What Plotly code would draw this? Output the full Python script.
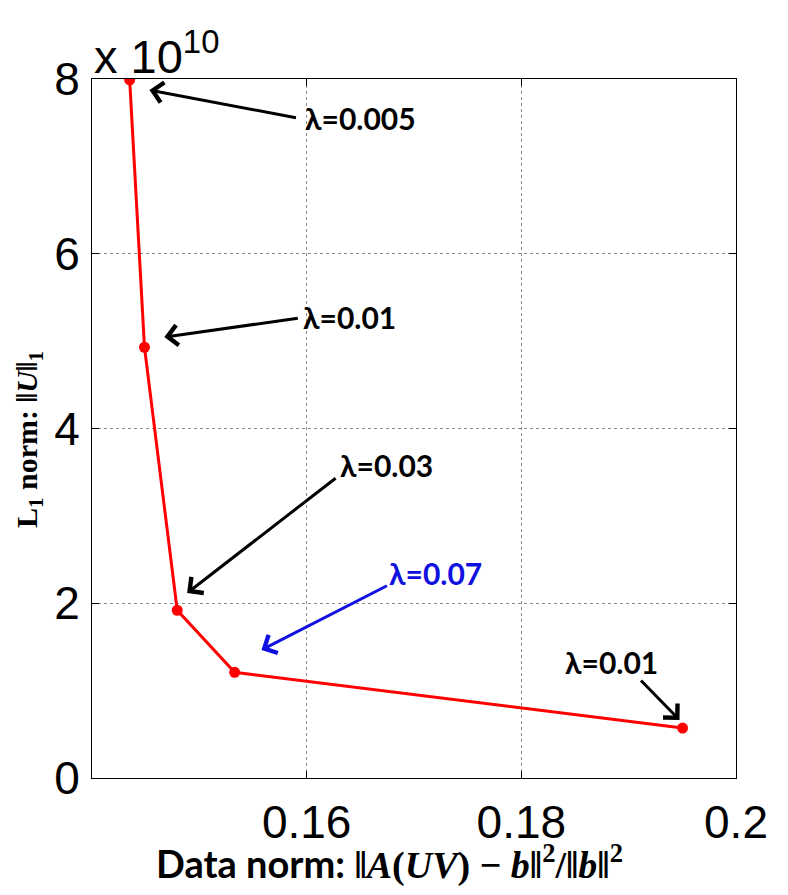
import plotly.graph_objects as go

# Data
data_norm = [0.14351, 0.14489, 0.14794, 0.15329, 0.19502]
l1_norm = [7.99e10, 4.93e10, 1.92e10, 1.21e10, 0.572e10]

x_ticks = [0.16, 0.18, 0.2]
x_ticktext = ["0.16", "0.18", "0.2"]
y_ticks = [0, 2e10, 4e10, 6e10, 8e10]
y_ticktext = ["0", "2", "4", "6", "8"]

lambda_labels = ["λ=0.005", "λ=0.01", "λ=0.03", "λ=0.07", "λ=0.01"]
lambda_colors = ["black", "black", "black", "#1010e0", "black"]

# page body has an 8px margin, so the figure is a little smaller than the window
W, H = 772, 879
L, R, T, B = 84, 36, 71, 109

fig = go.Figure()
fig.add_trace(go.Scatter(
    x=data_norm, y=l1_norm, mode="lines+markers",
    line=dict(color="#ff0000", width=3),
    marker=dict(color="#ff0000", size=11),
    showlegend=False, hoverinfo="skip",
))

tick_font = dict(family="Liberation Sans, Arial", size=46, color="black")
axis_common = dict(
    showline=True, linecolor="black", linewidth=1, mirror="ticks",
    ticks="inside", ticklen=7, tickcolor="black",
    showgrid=True, gridcolor="#8a8a8a", griddash="dot", gridwidth=1,
    zeroline=False, tickfont=tick_font,
)
fig.update_xaxes(range=[0.14, 0.2], tickvals=x_ticks, ticktext=x_ticktext,
                 ticklabelstandoff=4, **axis_common)
fig.update_yaxes(range=[0, 8e10], tickvals=y_ticks, ticktext=y_ticktext,
                 ticklabelstandoff=2, **axis_common)

ann_font = dict(family="Lato, Open Sans, sans-serif", size=30)
# arrows: (head x, head y, ax, ay) ; texts: (x, y, anchor)
arrows = [
    (0.145354, 7.874e10, 148, 28),
    (0.146738, 5.047e10, 135, -19),
    (0.148862, 2.117e10, 150, -116),
    (0.155785, 1.465e10, 127, -65),
    (0.194738, 0.664e10, -40, -41),
]
texts = [
    (0.159662, 7.554e10, "left"),
    (0.159477, 5.276e10, "left"),
    (0.162892, 3.582e10, "left"),
    (0.167508, 2.346e10, "left"),
    (0.188369, 1.328e10, "center"),
]
annotations = []
for (hx, hy, ax, ay), (tx, ty, anc), lab, col in zip(arrows, texts, lambda_labels, lambda_colors):
    annotations.append(dict(
        x=hx, y=hy, xref="x", yref="y", ax=ax, ay=ay, text="",
        showarrow=True, arrowhead=4, arrowsize=1.3, arrowwidth=3,
        arrowcolor=col, standoff=0,
    ))
    annotations.append(dict(
        x=tx, y=ty, xref="x", yref="y", text="<b>" + lab + "</b>",
        showarrow=False, xanchor=anc, yanchor="middle",
        font=dict(color=col, **ann_font),
    ))

# exponent label
annotations.append(dict(
    x=0, y=1, xref="paper", yref="paper", xanchor="left", yanchor="bottom",
    yshift=-6, text="x 10<sup>10</sup>", showarrow=False,
    font=dict(family="Liberation Sans, Arial", size=47, color="black"),
))
# x title
annotations.append(dict(
    x=0.4615, y=0, xref="paper", yref="paper", xanchor="center", yanchor="middle",
    yshift=-84, showarrow=False,
    text=("<b><span style='font-family:Lato'>Data norm: </span>"
          "<span style='font-family:Liberation Serif'>‖<i>A</i>(<i>UV</i>) − <i>b</i>‖"
          "<sup>2</sup>/‖<i>b</i>‖<sup>2</sup></span></b>"),
    font=dict(family="Lato", size=38, color="black"),
))
# y title
annotations.append(dict(
    x=0, y=0.4835, xref="paper", yref="paper", xanchor="center", yanchor="middle",
    xshift=-63, textangle=-90, showarrow=False,
    text="<b>L<sub>1</sub> norm: ‖<i>U</i>‖<sub>1</sub></b>",
    font=dict(family="Liberation Serif, DejaVu Serif", size=30, color="black"),
))

fig.update_layout(
    width=W, height=H, margin=dict(l=L, r=R, t=T, b=B),
    paper_bgcolor="white", plot_bgcolor="white",
    annotations=annotations,
)
fig.write_html("out.html")
